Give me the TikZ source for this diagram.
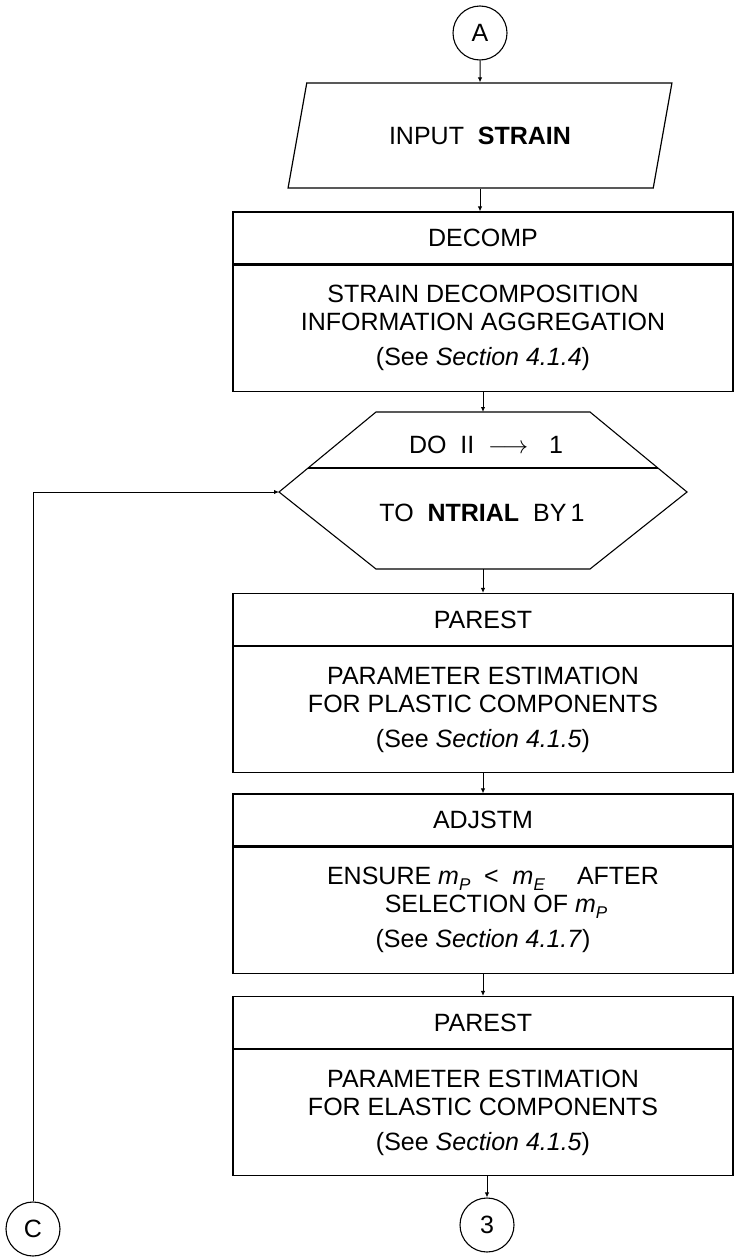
\documentclass[tikz,border=0pt]{standalone}
\usepackage{fontspec}
\setmainfont{Liberation Sans}
\usepackage{tikz}
\usetikzlibrary{arrows.meta,positioning,shapes.geometric}

% subscripted m as printed in the chart
\newcommand{\mvar}[1]{\textit{m}\raisebox{-0.45ex}{\fontsize{17}{17}\selectfont\textit{#1}}}

\tikzset{
  conn/.style={circle, draw, line width=1.1pt, minimum size=54pt, inner sep=0pt},
  inbox/.style={trapezium, draw, line width=1.2pt, trapezium left angle=61, trapezium right angle=119,
    trapezium stretches=true, minimum width=384pt, minimum height=105pt, inner sep=0pt},
  hdr/.style={draw, line width=1.2pt, minimum width=500pt, minimum height=52pt, inner sep=0pt},
  body/.style={draw, line width=1.2pt, minimum width=500pt, minimum height=126pt, inner sep=0pt, align=center},
  flow/.style={-{Latex[length=5pt,width=4.5pt]}, line width=1pt}
}

\begin{document}
\begin{tikzpicture}[x=1pt, y=-1pt, every node/.style={font=\fontsize{25}{28}\selectfont}]
\useasboundingbox (0,0) rectangle (738,1258);
% Entry
\node[conn] (A) at (480,33) {A};
\node[inbox] (inp) at (480,135.5) {INPUT\ \ \textbf{STRAIN}};
% DECOMP
\node[hdr] (decomp) at (483,238) {DECOMP};
\node[body, below=0pt of decomp] (decompb) {STRAIN DECOMPOSITION\\INFORMATION AGGREGATION\\[7pt](See \textit{Section 4.1.4})};
% DO loop
\coordinate (hexw) at (279,492);
\coordinate (hexe) at (687,492);
\coordinate (hexn) at (483,412);
\coordinate (hexs) at (483,569);
\draw[line width=1.1pt] (hexw) -- (376,412) -- (590,412) -- (hexe) -- (590,569) -- (376,569) -- cycle;
\draw[line width=1.1pt] (308,468) -- (658,468);
\node (dotop) at (486,445) {DO\ \ II\ \ $\longrightarrow$\ \ \ 1};
\node (dobot) at (482,513) {TO\ \ \textbf{NTRIAL}\ \ BY\,1};
% PAREST (plastic)
\node[hdr] (parp) at (483,619.5) {PAREST};
\node[body, below=0pt of parp] (parpb) {PARAMETER ESTIMATION\\FOR PLASTIC COMPONENTS\\[7pt](See \textit{Section 4.1.5})};
% ADJSTM
\node[hdr] (adj) at (483,820) {ADJSTM};
\node[body, below=0pt of adj] (adjb) {\hspace*{20pt}ENSURE \mvar{P}\ \ <\ \ \mvar{E}\quad\ AFTER\\\hspace*{26pt}SELECTION OF \mvar{P}\\[7pt](See \textit{Section 4.1.7})};
% PAREST (elastic)
\node[hdr] (pare) at (483,1022.5) {PAREST};
\node[body, below=0pt of pare] (pareb) {PARAMETER ESTIMATION\\FOR ELASTIC COMPONENTS\\[7pt](See \textit{Section 4.1.5})};
% Exits
\node[conn] (three) at (487,1225) {3};
\node[conn] (C) at (33,1229) {C};
% Connectors
\draw[flow] (A) -- (inp);
\draw[flow] (inp.south) -- (inp.south |- decomp.north);
\draw[flow] (decompb) -- (hexn);
\draw[flow] (hexs) -- (parp);
\draw[flow] (parpb) -- (adj);
\draw[flow] (adjb) -- (pare);
\draw[flow] (pareb.south -| three) -- (three);
\draw[flow] (C) |- (hexw);
\end{tikzpicture}
\end{document}
